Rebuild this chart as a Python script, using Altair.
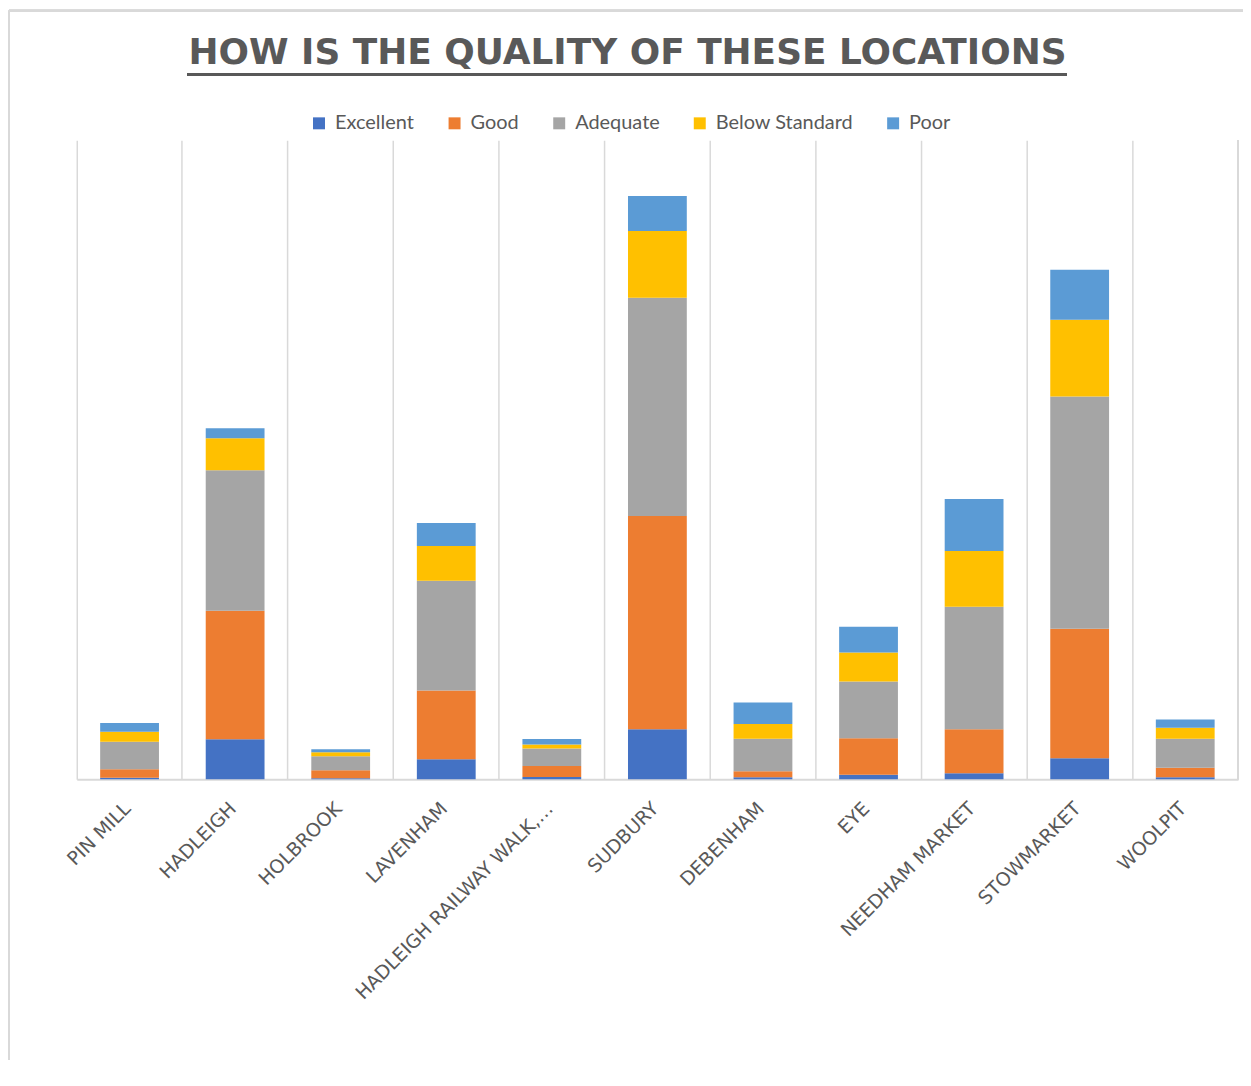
import altair as alt
import pandas as pd

locations = ["PIN MILL", "HADLEIGH", "HOLBROOK", "LAVENHAM", "HADLEIGH RAILWAY WALK,…",
             "SUDBURY", "DEBENHAM", "EYE", "NEEDHAM MARKET", "STOWMARKET", "WOOLPIT"]
qualities = ["Excellent", "Good", "Adequate", "Below Standard", "Poor"]
colors = ["#4472C4", "#ED7D31", "#A5A5A5", "#FFC000", "#5B9BD5"]

excellent = [1.5, 40, 1, 20, 2.3, 50, 2, 4.5, 6, 21, 2]
good = [8.5, 129, 8, 69, 11, 214, 6, 36.5, 44, 130, 9.5]
adequate = [27.5, 141, 14, 110, 17.5, 219, 32.5, 57, 123, 233, 29]
below_standard = [10, 32, 4, 35, 4, 67, 15, 29, 56, 77, 11]
poor = [9, 10, 3, 23, 5.5, 35, 21.5, 26, 52, 50, 8.5]

series = [excellent, good, adequate, below_standard, poor]
rows = []
for qi, (q, vals) in enumerate(zip(qualities, series)):
    for loc, v in zip(locations, vals):
        rows.append({"location": loc, "quality": q, "value": v, "idx": qi})
df = pd.DataFrame(rows)

W, H = 1165, 641
GRID = "#d9d9d9"
TXT = "#595959"

bars = alt.Chart(df).mark_bar(width={"band": 0.557}).encode(
    x=alt.X("location:N", sort=locations,
            scale=alt.Scale(paddingInner=0, paddingOuter=0),
            axis=alt.Axis(title=None, bandPosition=0, grid=True, gridColor=GRID,
                          gridWidth=1.5, domainColor=GRID, domainWidth=2, ticks=False,
                          labelAngle=-45, labelFont="DejaVu Sans", labelFontSize=19,
                          labelColor=TXT, labelAlign="right", labelBaseline="middle",
                          labelOffset=-2, labelPadding=26, labelLimit=400)),
    y=alt.Y("value:Q", stack="zero",
            scale=alt.Scale(domain=[0, H], nice=False), axis=None),
    color=alt.Color("quality:N", scale=alt.Scale(domain=qualities, range=colors),
                    legend=alt.Legend(orient="none", legendX=233, legendY=-27,
                                      direction="horizontal", title=None,
                                      symbolType="square", symbolSize=144,
                                      symbolStrokeWidth=0, labelFont="Lato",
                                      labelFontSize=20, labelColor=TXT,
                                      columnPadding=30, labelOffset=6, padding=0)),
    order=alt.Order("idx:Q", sort="ascending"),
)

right_edge = alt.Chart(df).mark_rule(color=GRID, strokeWidth=1.5).encode(
    x=alt.value(W), y=alt.value(0), y2=alt.value(H))

underline = alt.Chart(df).mark_rule(color=TXT, strokeWidth=2.5).encode(
    x=alt.value(111), x2=alt.value(993), y=alt.value(-66))

border_top = alt.Chart(df).mark_rule(color=GRID, strokeWidth=2).encode(
    x=alt.value(-68), x2=alt.value(W + 5), y=alt.value(-130))
border_left = alt.Chart(df).mark_rule(color=GRID, strokeWidth=2).encode(
    x=alt.value(-68), y=alt.value(-130), y2=alt.value(H + 290))

chart = alt.layer(bars, right_edge, underline, border_top, border_left).properties(
    width=W, height=H,
    title=alt.TitleParams("HOW IS THE QUALITY OF THESE LOCATIONS", font="DejaVu Sans",
                          fontSize=36, fontWeight="bold", color=TXT, anchor="middle",
                          frame="group", baseline="alphabetic", dx=-30, dy=90, offset=0),
    autosize=alt.AutoSizeParams(type="none"),
    padding={"left": 69, "top": 131, "right": 5, "bottom": 280},
).configure_view(stroke=None)

chart.save("out.html", embed_options={"renderer": "svg", "actions": False})
